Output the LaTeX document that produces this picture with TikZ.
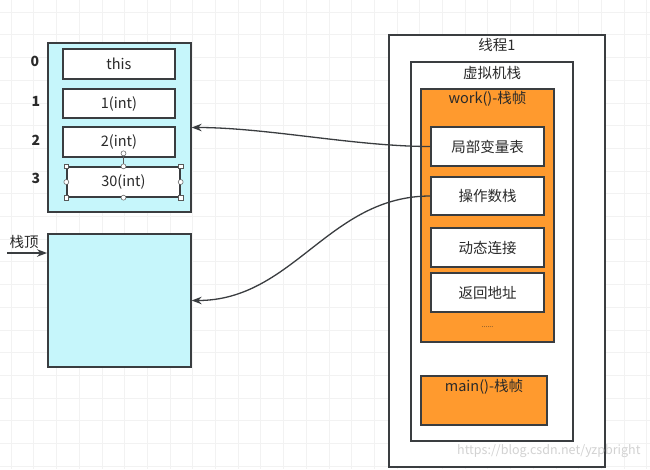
\documentclass[tikz,border=0pt]{standalone}
\usepackage{fontspec}
\setmainfont{Noto Sans CJK SC}
\usetikzlibrary{arrows.meta}
\definecolor{cyanfill}{HTML}{C6F6FB}
\definecolor{orangefill}{HTML}{FF9A2E}
\definecolor{edge}{HTML}{3A3D40}
\definecolor{txt}{HTML}{2A2A2A}
\tikzset{
  box/.style={draw=edge, line width=1.3pt, inner sep=0pt, rectangle},
  cyanbox/.style={box, fill=cyanfill},
  slot/.style={box, fill=white, font=\fontsize{14.5}{16}\selectfont, text=txt},
  frame/.style={box, fill=orangefill},
  container/.style={box, fill=white},
  title/.style={font=\fontsize{14.5}{16}\selectfont, text=txt, inner sep=0pt},
  idx/.style={font=\fontsize{14}{16}\selectfont\bfseries, text=txt, inner sep=0pt},
  conn/.style={draw=edge, line width=1.3pt, -{Stealth[length=10pt,width=7.5pt]}},
  handle/.style={draw=gray!70!black, fill=white, line width=0.5pt, inner sep=0pt},
}
\begin{document}
\begin{tikzpicture}[x=1pt,y=-1pt]
\useasboundingbox (0,0) rectangle (650,469);
\fill[white] (0,0) rectangle (650,469);
% grid
\foreach \i in {0,...,28} {
  \draw[gray!10, line width=0.6pt] (11+22.7*\i,0) -- (11+22.7*\i,469);
}
\foreach \j in {0,...,20} {
  \draw[gray!10, line width=0.6pt] (0,12+22.7*\j) -- (650,12+22.7*\j);
}
% left: local variable table
\node[cyanbox, minimum width=143pt, minimum height=169pt] (lvt) at (119.5,127.5) {};
\node[slot, minimum width=112pt, minimum height=30pt] (s0) at (119,64) {this};
\node[slot, minimum width=112pt, minimum height=29pt] (s1) at (119,103.5) {1(int)};
\node[slot, minimum width=112pt, minimum height=30pt] (s2) at (119,142) {2(int)};
\node[slot, minimum width=113pt, minimum height=30pt] (s3) at (123.5,182) {30(int)};
% selection handles on s3
\draw[gray!70!black, line width=0.5pt] (s3.north) -- ++(0,-13) coordinate (rot);
\node[handle, circle, minimum size=5pt] (hr) at (rot) {};
\foreach \a in {north west, north east, south west, south east} {
  \node[handle, rectangle, minimum size=4.5pt] at (s3.\a) {};
}
\foreach \a in {north, south, west, east} {
  \node[handle, circle, minimum size=5pt] at (s3.\a) {};
}
\node[idx] (i0) at (35,61) {0};
\node[idx] (i1) at (36,101) {1};
\node[idx] (i2) at (36,140) {2};
\node[idx] (i3) at (36,178) {3};
% left: operand stack
\node[cyanbox, minimum width=143pt, minimum height=133pt] (ops) at (119.5,300.5) {};
\node[title] (top) at (24,242) {栈顶};
\coordinate (topstart) at (7,253);
\coordinate (topend) at (47,253);
\draw[conn] (topstart) -- (topend);
% right: thread
\node[container, minimum width=216pt, minimum height=432pt] (thread) at (497,251) {};
\node[title] (threadt) at (497,45) {线程1};
\node[container, minimum width=162pt, minimum height=379pt] (jvm) at (492,251.5) {};
\node[title] (jvmt) at (492,73) {虚拟机栈};
\node[frame, minimum width=133pt, minimum height=253pt] (work) at (487.5,215.5) {};
\node[title] (workt) at (487.5,99) {work()-栈帧};
\node[slot, minimum width=113pt, minimum height=39pt] (lv) at (487.5,146.5) {局部变量表};
\node[slot, minimum width=113pt, minimum height=38pt] (os) at (487.5,196) {操作数栈};
\node[slot, minimum width=113pt, minimum height=39pt] (dl) at (487.5,247.5) {动态连接};
\node[slot, minimum width=113pt, minimum height=39pt] (ra) at (487.5,292.5) {返回地址};
\node[title, font=\fontsize{7}{8}\selectfont] (dots) at (487.5,327) {......};
\node[frame, minimum width=126pt, minimum height=49pt] (main) at (484,400.5) {};
\node[title] (maint) at (484,387) {main()-栈帧};
% connectors
\draw[conn] (lv.west) to[out=180,in=0,looseness=0.8] (lvt.east);
\draw[conn] (os.west) to[out=180,in=0,looseness=1.0] (ops.east);
% watermark
\begin{scope}
\clip (0,0) rectangle (650,469);
\node[anchor=west, text=gray!35, font=\fontsize{12.5}{14}\selectfont, inner sep=0pt] (wm) at (457,451) {https://blog.csdn.net/yzpbright};
\end{scope}
\end{tikzpicture}
\end{document}
